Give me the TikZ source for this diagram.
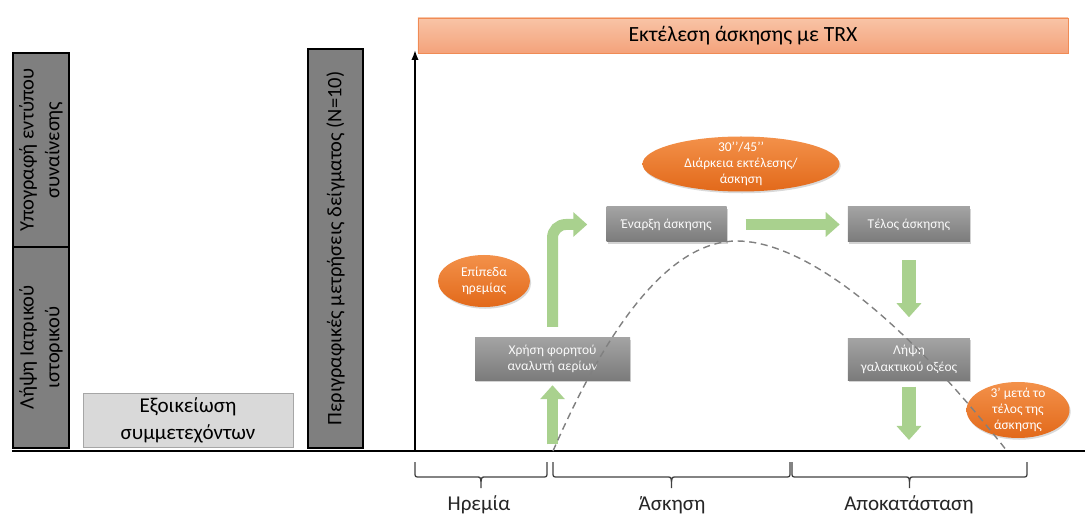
\documentclass[tikz,border=0pt]{standalone}
\usepackage{fontspec}
\setmainfont{Carlito}
\usetikzlibrary{positioning, arrows.meta, shapes.geometric, shadows}

\definecolor{boxdark}{HTML}{7F7F7F}
\definecolor{boxlight}{HTML}{D9D9D9}
\definecolor{steptop}{HTML}{A3A3A3}
\definecolor{stepbot}{HTML}{7B7B7B}
\definecolor{ovaltop}{HTML}{F3914A}
\definecolor{ovalbot}{HTML}{E2691A}
\definecolor{bartop}{HTML}{F8C4A6}
\definecolor{barbot}{HTML}{F4A27B}
\definecolor{barline}{HTML}{F08B55}
\definecolor{flowgreen}{HTML}{A9D18E}
\definecolor{bracegray}{HTML}{404040}

\newcommand{\phasebrace}[2]{%
	\draw[span] (#1,462) -- (#1,472) .. controls (#1,477) .. ({#1+5},477) -- ({(#1+#2)/2-4},477) .. controls ({(#1+#2)/2},477) .. ({(#1+#2)/2},488) .. controls ({(#1+#2)/2},477) .. ({(#1+#2)/2+4},477) -- ({#2-5},477) .. controls (#2,477) .. (#2,472) -- (#2,462);}

\tikzset{
	phase/.style={draw=black, line width=1.2pt, fill=boxdark, rotate=90, align=center, inner sep=0pt, minimum height=1.68cm, font=\fontsize{17.5}{22}\selectfont},
	stepbox/.style={top color=steptop, bottom color=stepbot, draw=none, align=center, text=white!95!gray, inner sep=0pt, minimum height=1.05cm, font=\fontsize{11.5}{14}\selectfont, drop shadow={opacity=0.35, shadow xshift=1pt, shadow yshift=-1.5pt}},
	oval/.style={ellipse, top color=ovaltop, bottom color=ovalbot, draw=none, align=center, text=white, inner sep=0pt, font=\fontsize{11.5}{13.5}\selectfont, drop shadow={opacity=0.3, shadow xshift=1pt, shadow yshift=-1.5pt}},
	flow/.style={draw=flowgreen, line width=0.33cm, -{Triangle[width=0.72cm, length=0.42cm]}},
	span/.style={draw=bracegray, line width=1.1pt},
	label/.style={text=black!85, font=\fontsize{18}{21}\selectfont},
}

\begin{document}
\begin{tikzpicture}[x=0.03cm, y=-0.03cm]
		\useasboundingbox (0,0) rectangle (1085,515);

		\node[phase, minimum width=5.82cm] (sig) at (41,150) {Υπογραφή εντύπου\\συναίνεσης};
		\node[phase, minimum width=6.03cm] (hist) at (41,347.5) {Λήψη Ιατρικού\\ιστορικού};
		\node[draw=black!35, line width=0.8pt, fill=boxlight, align=center, minimum width=6.3cm, minimum height=1.62cm, font=\fontsize{18}{23}\selectfont] (fam) at (188,420) {Εξοικείωση\\συμμετεχόντων};
		\node[phase, minimum width=11.97cm, minimum height=1.65cm] (desc) at (335.5,248.5) {Περιγραφικές μετρήσεις δείγματος (N=10)};

		\node[top color=bartop, bottom color=barbot, draw=barline, line width=0.8pt, minimum width=19.5cm, minimum height=1.05cm, font=\fontsize{18.5}{21}\selectfont] (trx) at (743,35.5) {Εκτέλεση άσκησης με TRX};

		\coordinate (bl) at (12,451);
		\coordinate (br) at (1085,451);
		\coordinate (o) at (415,451);
		\coordinate (top) at (415,50);
		\draw[line width=2.4pt] (bl) -- (br);
		\draw[line width=1.4pt, -{Latex[length=0.3cm, width=0.22cm]}] (o) -- (top);

		\node[stepbox, minimum width=3.6cm] (en) at (666.5,224.5) {Έναρξη άσκησης};
		\node[stepbox, minimum width=3.66cm, right=3.63cm of en] (tel) {Τέλος άσκησης};
		\node[stepbox, minimum width=3.66cm, minimum height=1.26cm, below=2.88cm of tel] (lip) {Λήψη\\γαλακτικού οξέος};
		\node[stepbox, minimum width=4.65cm, minimum height=1.26cm] (chr) at (552.5,359) {Χρήση φορητού\\αναλυτή αερίων};

		\node[oval, minimum width=5.91cm, minimum height=1.65cm, inner ysep=-3.5pt] (dur) at (741,164) {30’’/45’’\\Διάρκεια εκτέλεσης/\\άσκηση};
		\node[oval, minimum width=2.76cm, minimum height=1.56cm] (rest) at (484,281) {Επίπεδα\\ηρεμίας};
		\node[oval, minimum width=3.09cm, minimum height=1.68cm, inner ysep=-3.5pt] (after) at (1018,410) {3’ μετά το\\τέλος της\\άσκησης};

		\draw[flow, shorten <=0.2cm, shorten >=0.15cm] (chr.south |- o) -- (chr.south);
		\draw[flow, rounded corners=0.4cm, shorten <=0.33cm, shorten >=0.57cm] (chr.north) |- (en.west);
		\draw[flow, shorten <=0.57cm, shorten >=0.24cm] (en.east) -- (tel.west);
		\draw[flow, line width=0.42cm, shorten <=0.54cm, shorten >=0.63cm] (tel.south) -- (lip.north);
		\draw[flow, line width=0.42cm, shorten <=0.18cm, shorten >=0.33cm] (lip.south) -- (lip.south |- o);

		\draw[gray, line width=1.2pt, dash pattern=on 6pt off 4pt] (553,451) .. controls (614.3,310.7) and (675.7,241) .. (737,241) .. controls (790,241) and (880,290) .. (1007,451);

		\phasebrace{415}{547}
		\phasebrace{553}{790}
		\phasebrace{792}{1027}
		\node[label] (calm) at (479,505) {Ηρεμία};
		\node[label] (ex) at (672,505) {Άσκηση};
		\node[label] (rec) at (909,505) {Αποκατάσταση};
	\end{tikzpicture}
\end{document}
